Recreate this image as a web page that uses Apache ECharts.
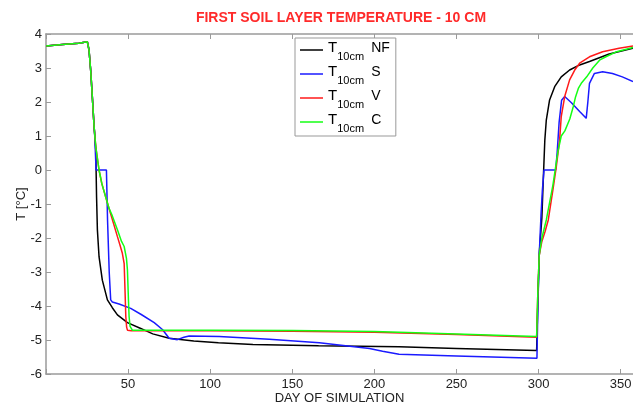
<!DOCTYPE html>
<html><head><meta charset="utf-8">
<script src="https://cdn.jsdelivr.net/npm/echarts@6/dist/echarts.min.js"></script>
<style>html,body{margin:0;padding:0;background:#fff}#c{width:633px;height:407px}</style>
</head><body><div id="c"></div>
<script>
// ---- data ----
const seriesNames = ['NF', 'S', 'V', 'C'];
const seriesColors = ['#000000', '#1a1aff', '#ff1a1a', '#14ff14'];

const earlyDay  = [0, 10, 20, 25.2, 26.2, 27.2, 28.2, 29.3];
const earlyTemp = [3.65, 3.69, 3.73, 3.77, 3.53, 2.94, 2.16, 1.27];

const nfDay  = [30.3, 30.8, 31.3, 32.3, 34.3, 37.4, 40.4, 43.5, 49.6, 57.7, 65, 75, 90, 105, 126, 166, 215, 250, 298.8, 299.6, 300.5, 302, 303, 303.8, 304.7, 306.7, 309.8, 313.8, 318.9, 325, 331, 343, 357.5];
const nfTemp = [0.6, -0.8, -1.76, -2.55, -3.24, -3.82, -4.05, -4.26, -4.49, -4.66, -4.82, -4.95, -5.03, -5.08, -5.13, -5.17, -5.2, -5.25, -5.31, -3.8, -2.4, -1.4, -0.1, 0.88, 1.47, 2.06, 2.45, 2.74, 2.94, 3.09, 3.19, 3.41, 3.58];

const sDay  = [29.6, 30.5, 36.8, 37.5, 38.5, 39.4, 40.4, 44.5, 51.6, 58, 65.9, 70.9, 75, 80, 84, 87.2, 105.5, 136, 166.5, 197, 205, 215, 250, 299, 299.5, 300.3, 301.5, 302.3, 303.3, 310.4, 311.3, 312.5, 314, 315.9, 320, 325, 329, 330, 331, 334, 339, 345, 351, 357.5];
const sTemp = [1.1, 0.0, 0.0, -1.5, -3.0, -3.82, -3.88, -3.94, -4.07, -4.25, -4.49, -4.69, -4.95, -4.99, -4.92, -4.88, -4.9, -4.98, -5.08, -5.25, -5.33, -5.42, -5.47, -5.54, -4.2, -2.6, -1.3, -0.6, 0.0, 0.0, 0.5, 1.4, 2.05, 2.16, 1.98, 1.72, 1.52, 2.0, 2.55, 2.84, 2.89, 2.84, 2.74, 2.6];

const vDay  = [30.3, 32.3, 34, 36.4, 38.4, 41, 43.5, 45, 46.5, 47.6, 48.1, 48.6, 49.1, 49.6, 52, 100, 150, 200, 250, 298.8, 299.6, 300.4, 302, 304, 305.9, 308.7, 310.8, 312.8, 313.8, 315.9, 318.9, 322, 325, 331, 339, 349, 357.5];
const vTemp = [0.69, 0, -0.4, -0.8, -1.13, -1.55, -1.96, -2.2, -2.45, -2.75, -3.5, -4.31, -4.62, -4.71, -4.73, -4.73, -4.74, -4.77, -4.84, -4.92, -3.5, -2.5, -2.1, -1.8, -1.47, -0.59, 0.1, 0.88, 1.57, 2.16, 2.65, 2.94, 3.14, 3.33, 3.48, 3.58, 3.65];

const cDay  = [30.3, 32.3, 34, 36.4, 38.4, 40.4, 43.5, 46, 47.6, 49, 49.6, 50.2, 50.6, 51.2, 52.6, 100, 150, 200, 250, 298.8, 299.6, 300.4, 302, 304.7, 308.7, 311.8, 313.8, 316, 317.1, 319, 321.1, 322.5, 324.2, 326, 329.3, 333, 337.4, 341, 347.6, 357.5];
const cTemp = [0.69, 0, -0.4, -0.8, -1.13, -1.35, -1.76, -2.1, -2.25, -2.6, -2.94, -3.8, -4.31, -4.6, -4.71, -4.71, -4.72, -4.75, -4.82, -4.9, -3.5, -2.5, -2.0, -1.47, -0.45, 0.55, 1.0, 1.15, 1.2, 1.5, 1.86, 2.15, 2.4, 2.55, 2.74, 3.0, 3.24, 3.33, 3.48, 3.6];

const xTickStep = 50;
const xMin = 0, xMax = 357.5;
const yMin = -6, yMax = 4, yTickStep = 1;

const titleText = 'FIRST SOIL LAYER TEMPERATURE - 10 CM';
const xName = 'DAY OF SIMULATION';
const yName = 'T [°C]';

// ---- build ----
function pairs(d, t) { return earlyDay.map((x, i) => [x, earlyTemp[i]]).concat(d.map((x, i) => [x, t[i]])); }
const allDays = [nfDay, sDay, vDay, cDay];
const allTemps = [nfTemp, sTemp, vTemp, cTemp];

const FONT = 'Liberation Sans, Arial, sans-serif';
const AX = '#9a9a9a';

const chart = echarts.init(document.getElementById('c'), null, { renderer: 'canvas' });
chart.setOption({
  animation: false,
  backgroundColor: '#fff',
  title: {
    text: titleText, left: 341, top: 11, padding: 0, textAlign: 'center',
    textStyle: { color: '#ff2a2a', fontWeight: 'bold', fontSize: 14, fontFamily: FONT }
  },
  grid: { left: 46, right: 0, top: 34, bottom: 33, containLabel: false, outerBoundsMode: 'none' },
  legend: {
    orient: 'vertical', left: 295, top: 38, padding: [0, 6, 2, 5], itemGap: 0,
    itemWidth: 23, itemHeight: 1.5, icon: 'rect',
    backgroundColor: '#fff', borderColor: '#999', borderWidth: 1,
    data: seriesNames,
    formatter: n => '{t|T}{s|10cm}{n|' + n + '}',
    textStyle: {
      color: '#000', fontFamily: FONT,
      rich: {
        t: { fontSize: 15, fontFamily: FONT, verticalAlign: 'top', height: 20, lineHeight: 24, color: '#000' },
        s: { fontSize: 11, fontFamily: FONT, verticalAlign: 'bottom', width: 34, lineHeight: 24, color: '#000' },
        n: { fontSize: 14, fontFamily: FONT, verticalAlign: 'top', height: 20, lineHeight: 24, color: '#000' }
      }
    }
  },
  xAxis: [{
    type: 'value', min: xMin, max: xMax, interval: xTickStep, position: 'bottom',
    name: xName, nameLocation: 'middle', nameGap: 18, nameMoveOverlap: false,
    nameTextStyle: { fontSize: 13, fontFamily: FONT, color: '#222' },
    axisLine: { show: true, onZero: false, lineStyle: { color: AX, width: 1.5 } },
    axisTick: { show: true, inside: true, length: 5, lineStyle: { color: AX } },
    axisLabel: { margin: 4, fontSize: 13, fontFamily: FONT, color: '#222',
      formatter: v => (v > 0 && v % xTickStep === 0) ? String(v) : '' },
    splitLine: { show: false }
  }, {
    type: 'value', min: xMin, max: xMax, interval: xTickStep, position: 'top',
    axisLine: { show: true, onZero: false, lineStyle: { color: AX, width: 1.5 } },
    axisTick: { show: true, inside: true, length: 5, lineStyle: { color: AX } },
    axisLabel: { show: false }, splitLine: { show: false }
  }],
  yAxis: {
    type: 'value', min: yMin, max: yMax, interval: yTickStep,
    name: yName, nameLocation: 'middle', nameGap: 18, nameRotate: 90, nameMoveOverlap: false,
    nameTextStyle: { fontSize: 13, fontFamily: FONT, color: '#222' },
    axisLine: { show: true, onZero: false, lineStyle: { color: AX, width: 1.5 } },
    axisTick: { show: true, inside: true, length: 5, lineStyle: { color: AX } },
    axisLabel: { margin: 4, fontSize: 13, fontFamily: FONT, color: '#222' },
    splitLine: { show: false }
  },
  series: seriesNames.map((n, i) => ({
    name: n, type: 'line', xAxisIndex: 0, symbol: 'none', smooth: false,
    data: pairs(allDays[i], allTemps[i]),
    lineStyle: { color: seriesColors[i], width: 1.5 },
    itemStyle: { color: seriesColors[i] }
  }))
});
</script></body></html>
